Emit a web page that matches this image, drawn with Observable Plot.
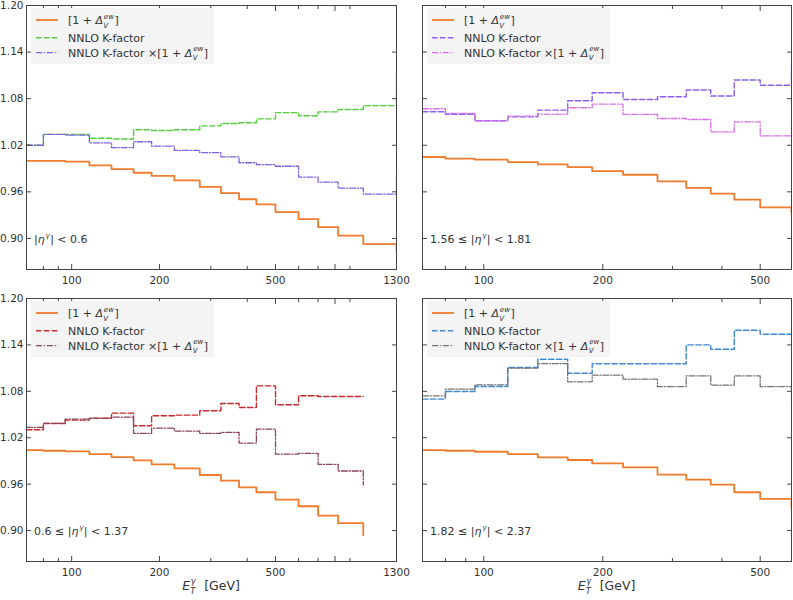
<!DOCTYPE html>
<html>
<head>
<meta charset="utf-8">
<script src="https://cdn.jsdelivr.net/npm/d3@7"></script>
<script src="https://cdn.jsdelivr.net/npm/@observablehq/plot@0.6"></script>
<style>
  body { margin: 0; background: #fff; }
  #fig { position: relative; width: 793px; height: 600px; overflow: hidden; font-family: "DejaVu Sans", sans-serif; color: #333; }
  .panel { position: absolute; }
  #overlay { position: absolute; left: 0; top: 0; pointer-events: none; font-family: "DejaVu Sans", sans-serif; }
</style>
</head>
<body>
<div id="fig"></div>
<script>
// ---------------- data ----------------
// bin lower edges (GeV); the last entry is the last upper edge, carrying a tail value
const edgesEta1 = [70, 80, 95, 115, 137, 163, 188, 225, 275, 325, 375, 430, 500, 600, 700, 820, 1000, 1300];
const edgesEta2 = [70, 80, 95, 115, 137, 163, 188, 225, 275, 325, 375, 430, 500, 600];
const edgesEta3 = [70, 80, 95, 115, 137, 163, 188, 225, 275, 325, 375, 430, 500, 600, 700, 820, 1000];
const edgesEta4 = [70, 80, 95, 115, 137, 163, 188, 225, 275, 325, 375, 430, 500, 600];

// |eta| < 0.6
const ewEta1 = [1.000, 1.000, 0.999, 0.994, 0.9893, 0.9846, 0.9807, 0.9747, 0.9665, 0.9583, 0.9505, 0.944, 0.934, 0.925, 0.9147, 0.9035, 0.8927, 0.884];
const kEta1  = [1.020, 1.034, 1.034, 1.029, 1.028, 1.040, 1.039, 1.040, 1.045, 1.048, 1.049, 1.054, 1.062, 1.058, 1.063, 1.066, 1.071, 1.113];
const pEta1  = [1.020, 1.034, 1.033, 1.023, 1.017, 1.0245, 1.019, 1.0135, 1.0105, 1.005, 0.9975, 0.995, 0.993, 0.979, 0.9725, 0.9647, 0.957, 0.984];

// 1.56 <= |eta| < 1.81
const ewEta2 = [1.0049, 1.0027, 1.0014, 0.9984, 0.9954, 0.9919, 0.9867, 0.982, 0.9734, 0.9652, 0.9578, 0.950, 0.940, 0.9337];
const kEta2  = [1.0631, 1.060, 1.0515, 1.0566, 1.0653, 1.0773, 1.0877, 1.079, 1.0825, 1.0912, 1.0834, 1.1041, 1.0972, 1.1235];
const pEta2  = [1.067, 1.061, 1.0515, 1.0575, 1.060, 1.0683, 1.073, 1.0597, 1.0545, 1.0532, 1.0372, 1.0502, 1.032, 1.049];

// 0.6 <= |eta| < 1.37
const ewEta3 = [1.0041, 1.0032, 1.0024, 0.9989, 0.995, 0.9908, 0.9856, 0.9804, 0.9718, 0.9645, 0.9559, 0.9495, 0.940, 0.9314, 0.9194, 0.9095, 0.894];
const kEta3  = [1.0303, 1.0385, 1.0428, 1.045, 1.0518, 1.0355, 1.0484, 1.0492, 1.0548, 1.0643, 1.0591, 1.0871, 1.0626, 1.0742, 1.0733, 1.0733, 1.0733];
const pEta3  = [1.0333, 1.0385, 1.0441, 1.0454, 1.0467, 1.0256, 1.0325, 1.0286, 1.0256, 1.0269, 1.0131, 1.0312, 0.9989, 0.9998, 0.9856, 0.977, 0.959];

// 1.82 <= |eta| < 2.37
const ewEta4 = [1.0041, 1.0032, 1.0019, 0.9989, 0.9946, 0.9912, 0.9869, 0.9817, 0.9723, 0.9658, 0.9594, 0.9495, 0.9409, 0.930];
const kEta4  = [1.0699, 1.0798, 1.0862, 1.1108, 1.1215, 1.1034, 1.1157, 1.1157, 1.1157, 1.140, 1.1344, 1.1589, 1.1538, 1.148];
const pEta4  = [1.0742, 1.0828, 1.0884, 1.1099, 1.1159, 1.0923, 1.1009, 1.0957, 1.0862, 1.100, 1.088, 1.100, 1.0862, 1.068];

// ticks and labels
const yTicks = [0.90, 0.96, 1.02, 1.08, 1.14, 1.20];
const xMajorWide = [100, 200, 500, 800, 1300];
const xMinorWide = [80, 90, 300, 400, 600, 700, 900];
const xMajorNarrow = [100, 200, 500];
const xMinorNarrow = [80, 90, 300, 400];
const etaLow = [null, "1.56", "0.6", "1.82"];
const etaHigh = ["0.6", "1.81", "1.37", "2.37"];

// ---------------- styling / layout ----------------
const ORANGE = "#ef7b2d";
const panels = [
  {edges: edgesEta1, ew: ewEta1, k: kEta1, p: pEta1, kColor: "#55cc3c", pColor: "#7d60e4",
   left: 0, top: 0, w: 400, h: 292, ml: 26, mr: 4, mt: 5, mb: 23, xDomain: [70, 1300],
   majors: xMajorWide, minors: xMinorWide, yLabels: true, xTitle: false},
  {edges: edgesEta2, ew: ewEta2, k: kEta2, p: pEta2, kColor: "#8c60ea", pColor: "#d670e6",
   left: 400, top: 0, w: 393, h: 292, ml: 22, mr: 2, mt: 5, mb: 23, xDomain: [70, 600],
   majors: xMajorNarrow, minors: xMinorNarrow, yLabels: false, xTitle: false},
  {edges: edgesEta3, ew: ewEta3, k: kEta3, p: pEta3, kColor: "#c62b2b", pColor: "#8a4556",
   left: 0, top: 292, w: 400, h: 308, ml: 26, mr: 4, mt: 6, mb: 39, xDomain: [70, 1300],
   majors: xMajorWide, minors: xMinorWide, yLabels: true, xTitle: true},
  {edges: edgesEta4, ew: ewEta4, k: kEta4, p: pEta4, kColor: "#3e88d6", pColor: "#747474",
   left: 400, top: 292, w: 393, h: 308, ml: 22, mr: 2, mt: 6, mb: 39, xDomain: [70, 600],
   majors: xMajorNarrow, minors: xMinorNarrow, yLabels: false, xTitle: true}
];
const DASH = "5.5,2.4";
const DASHDOT = "6,1.8,1.2,1.8";

const fig = document.getElementById("fig");

panels.forEach((cfg) => {
  const mk = (vals) => cfg.edges.map((x, i) => ({x, y: vals[i]}));
  const plot = Plot.plot({
    width: cfg.w, height: cfg.h,
    marginLeft: cfg.ml, marginRight: cfg.mr, marginTop: cfg.mt, marginBottom: cfg.mb,
    style: {fontFamily: "DejaVu Sans", fontSize: "10.5px", color: "#333", background: "transparent", overflow: "visible"},
    x: {type: "log", domain: cfg.xDomain},
    y: {domain: [0.86, 1.20]},
    marks: [
      Plot.line(mk(cfg.ew), {x: "x", y: "y", curve: "step-after", stroke: ORANGE, strokeWidth: 1.8, clip: true}),
      Plot.line(mk(cfg.k), {x: "x", y: "y", curve: "step-after", stroke: cfg.kColor, strokeWidth: 1.4, strokeDasharray: DASH, clip: true}),
      Plot.line(mk(cfg.p), {x: "x", y: "y", curve: "step-after", stroke: cfg.pColor, strokeWidth: 1.3, strokeDasharray: DASHDOT, clip: true}),
      Plot.axisX({anchor: "bottom", ticks: cfg.majors, tickSize: -5, fill: "none", label: null, stroke: "#444"}),
      Plot.axisX({anchor: "bottom", ticks: cfg.minors, tickSize: -3, fill: "none", label: null, stroke: "#444"}),
      Plot.axisX({anchor: "top", ticks: cfg.majors, tickSize: -5, fill: "none", label: null, stroke: "#444"}),
      Plot.axisX({anchor: "top", ticks: cfg.minors, tickSize: -3, fill: "none", label: null, stroke: "#444"}),
      Plot.axisY({anchor: "left", ticks: yTicks, tickSize: -5, fill: "none", label: null, stroke: "#444"}),
      Plot.axisY({anchor: "right", ticks: yTicks, tickSize: -5, fill: "none", label: null, stroke: "#444"}),
      cfg.yLabels ? Plot.axisY({anchor: "left", ticks: yTicks, tickSize: 0, tickPadding: 3, tickFormat: d3.format(".2f"), label: null, fill: "#333"}) : null,
      Plot.axisX({anchor: "bottom", ticks: cfg.majors, tickSize: 0, tickPadding: 7, tickFormat: (d) => String(d), label: null, fill: "#333"}),
      Plot.frame({stroke: "#444"})
    ]
  });
  const wrap = document.createElement("div");
  wrap.className = "panel";
  wrap.style.left = cfg.left + "px";
  wrap.style.top = cfg.top + "px";
  wrap.appendChild(plot);
  fig.appendChild(wrap);
});

// ---------------- overlay: legends, region labels, axis titles ----------------
const NS = "http://www.w3.org/2000/svg";
const overlay = document.createElementNS(NS, "svg");
overlay.setAttribute("id", "overlay");
overlay.setAttribute("width", 793);
overlay.setAttribute("height", 600);
fig.appendChild(overlay);

function el(parent, name, attrs) {
  const e = document.createElementNS(NS, name);
  for (const k in attrs) e.setAttribute(k, attrs[k]);
  parent.appendChild(e);
  return e;
}
function addText(parent, x, y, str, size, italic) {
  const t = el(parent, "text", {x, y, "font-size": size, fill: "#333"});
  if (italic) t.setAttribute("font-style", "italic");
  t.style.whiteSpace = "pre";
  t.textContent = str;
  return t.getComputedTextLength();
}
function drawMath(parent, x, y, parts, size) {
  let cx = x;
  for (const p of parts) {
    if (p.sup !== undefined || p.sub !== undefined) {
      const s = size * 0.65;
      const w1 = p.sup ? addText(parent, cx + 0.8, y - size * 0.5, p.sup, s, true) : 0;
      const w2 = p.sub ? addText(parent, cx + 0.3, y + size * 0.34, p.sub, s, true) : 0;
      cx += Math.max(w1, w2) + 1.2;
    } else {
      cx += addText(parent, cx, y, p.t, size, p.i);
    }
  }
  return cx - x;
}

const ewLabel = [{t: "[1 + "}, {t: "Δ", i: true}, {sup: "ew", sub: "V"}, {t: "]"}];
const legendLabels = [
  ewLabel,
  [{t: "NNLO K-factor"}],
  [{t: "NNLO K-factor ×"}, ...ewLabel]
];

panels.forEach((cfg, pi) => {
  const fl = cfg.left + cfg.ml, ft = cfg.top + cfg.mt, fb = cfg.top + cfg.h - cfg.mb, fr = cfg.left + cfg.w - cfg.mr;
  const g = el(overlay, "g", {});
  const bg = el(g, "rect", {x: fl + 5, y: ft + 3, width: 10, height: 56, fill: "#f4f4f4"});
  const lineY = [15, 32.7, 47.7];
  const baseY = [19, 36.5, 51.5];
  const styles = [
    {stroke: ORANGE, w: 1.8, dash: null},
    {stroke: cfg.kColor, w: 1.4, dash: DASH},
    {stroke: cfg.pColor, w: 1.3, dash: DASHDOT}
  ];
  let maxEnd = 0;
  legendLabels.forEach((parts, i) => {
    const st = styles[i];
    const ln = el(g, "line", {x1: fl + 10, x2: fl + 32, y1: ft + lineY[i], y2: ft + lineY[i], stroke: st.stroke, "stroke-width": st.w});
    if (st.dash) ln.setAttribute("stroke-dasharray", st.dash);
    const w = drawMath(g, fl + 42, ft + baseY[i], parts, 11);
    maxEnd = Math.max(maxEnd, fl + 42 + w);
  });
  bg.setAttribute("width", maxEnd + 6 - (fl + 5));

  // region label
  const region = [];
  if (etaLow[pi] !== null) region.push({t: etaLow[pi] + " ≤ |"}); else region.push({t: "|"});
  region.push({t: "η", i: true}, {sup: "γ"}, {t: "| < " + etaHigh[pi]});
  drawMath(overlay, fl + 8, fb - 26, region, 11);

  // x-axis title
  if (cfg.xTitle) {
    const tg = el(overlay, "g", {});
    const w = drawMath(tg, 0, 590, [{t: "E", i: true}, {sup: "γ", sub: "T"}, {t: "  [GeV]"}], 12.5);
    tg.setAttribute("transform", `translate(${(fl + fr) / 2 - w / 2},0)`);
  }
});
</script>
</body>
</html>
